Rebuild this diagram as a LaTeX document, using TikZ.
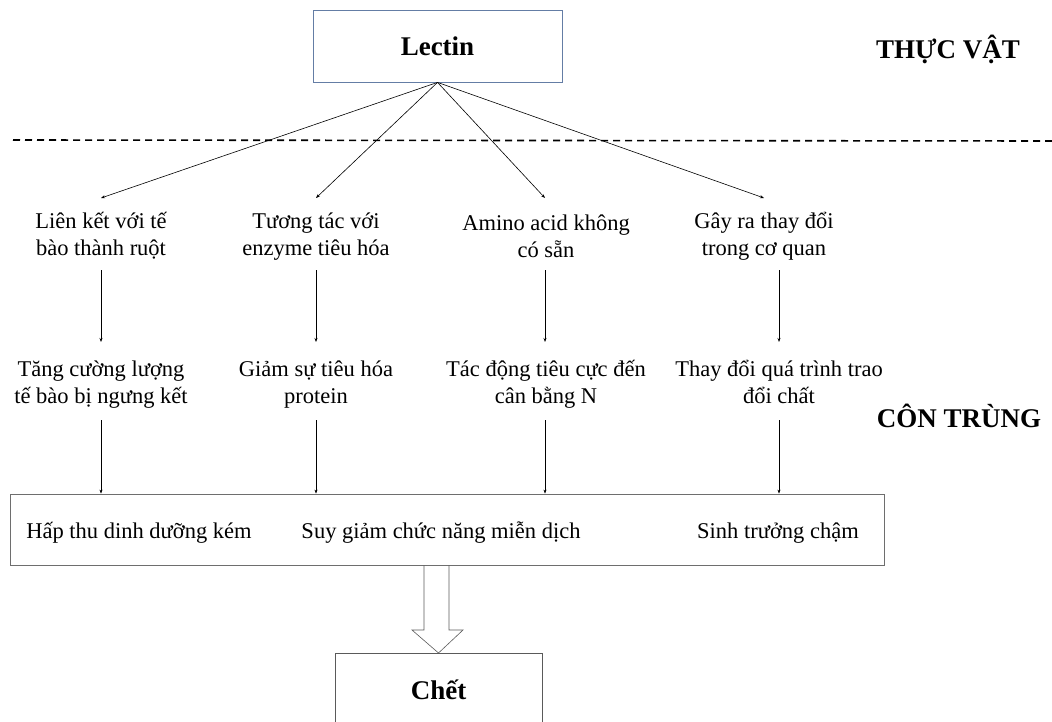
\documentclass[tikz,border=0pt]{standalone}
\usepackage{fontspec}
\setmainfont{Liberation Serif}
\usetikzlibrary{arrows.meta}
\begin{document}
\begin{tikzpicture}[x=1pt,y=-1pt,
  lbl/.style={align=center,font=\fontsize{22.5}{27}\selectfont,inner sep=0pt},
  ttl/.style={font=\fontsize{27}{30}\selectfont\bfseries,inner sep=0pt},
  arr/.style={draw,line width=0.6pt,-{Stealth[length=4pt,width=3pt]}},
  ]
\useasboundingbox (0,0) rectangle (1052,722);
\clip (0,0) rectangle (1052,722);
\node[draw={rgb,255:red,100;green,125;blue,165},line width=0.8pt,minimum width=249pt,minimum height=72pt,ttl] (lectin) at (437.5,46) {Lectin};
\node[ttl,anchor=base] (tv) at (948,59) {THỰC VẬT};
\node[ttl,anchor=base] (ct) at (959,427) {CÔN TRÙNG};
\draw[line width=1.6pt,dash pattern=on 7pt off 5pt] (13,140) -- (1052,141);
\coordinate (c1) at (101,198);
\coordinate (c2) at (316,198);
\coordinate (c3) at (545,198);
\coordinate (c4) at (764,198);
\foreach \c in {c1,c2,c3,c4} \draw[arr] (lectin.south) -- (\c);
\node[lbl,anchor=base] (a1) at (101,255) {Liên kết với tế\\bào thành ruột};
\node[lbl,anchor=base] (a2) at (316,255) {Tương tác với\\enzyme tiêu hóa};
\node[lbl,anchor=base] (a3) at (546,258) {Amino acid không\\có sẵn};
\node[lbl,anchor=base] (a4) at (764,255) {Gây ra thay đổi\\trong cơ quan};
\node[lbl,anchor=base] (b1) at (101,403) {Tăng cường lượng\\tế bào bị ngưng kết};
\node[lbl,anchor=base] (b2) at (316,403) {Giảm sự tiêu hóa\\protein};
\node[lbl,anchor=base] (b3) at (546,403) {Tác động tiêu cực đến\\cân bằng N};
\node[lbl,anchor=base] (b4) at (779,403) {Thay đổi quá trình trao\\đổi chất};
\node[draw={rgb,255:red,110;green,110;blue,110},line width=0.8pt,minimum width=874pt,minimum height=71pt,inner sep=0pt] (box) at (447,529.5) {};
\node[lbl,anchor=base] (e1) at (139,538) {Hấp thu dinh dưỡng kém};
\node[lbl,anchor=base] (e2) at (441,538) {Suy giảm chức năng miễn dịch};
\node[lbl,anchor=base] (e3) at (778,538) {Sinh trưởng chậm};
\draw[arr] (101,270) -- (101,342);
\draw[arr] (316,270) -- (316,342);
\draw[arr] (545,270) -- (545,342);
\draw[arr] (779,270) -- (779,342);
\draw[arr] (101,420) -- (box.north -| 101,0);
\draw[arr] (316,420) -- (box.north -| 316,0);
\draw[arr] (545,420) -- (box.north -| 545,0);
\draw[arr] (779,420) -- (box.north -| 779,0);
\node[draw={rgb,255:red,90;green,90;blue,90},line width=0.8pt,minimum width=207pt,minimum height=110pt,inner sep=0pt,anchor=north] (chet) at (438.5,653) {};
\node[ttl,anchor=base] (chett) at (438.5,699) {Chết};
\draw[line width=0.6pt,draw={rgb,255:red,90;green,90;blue,90}] (box.south -| 424,0) -- (424,630) -- (412,630) -- (chet.north) -- (463,630) -- (449,630) -- (box.south -| 449,0);
\end{tikzpicture}
\end{document}
